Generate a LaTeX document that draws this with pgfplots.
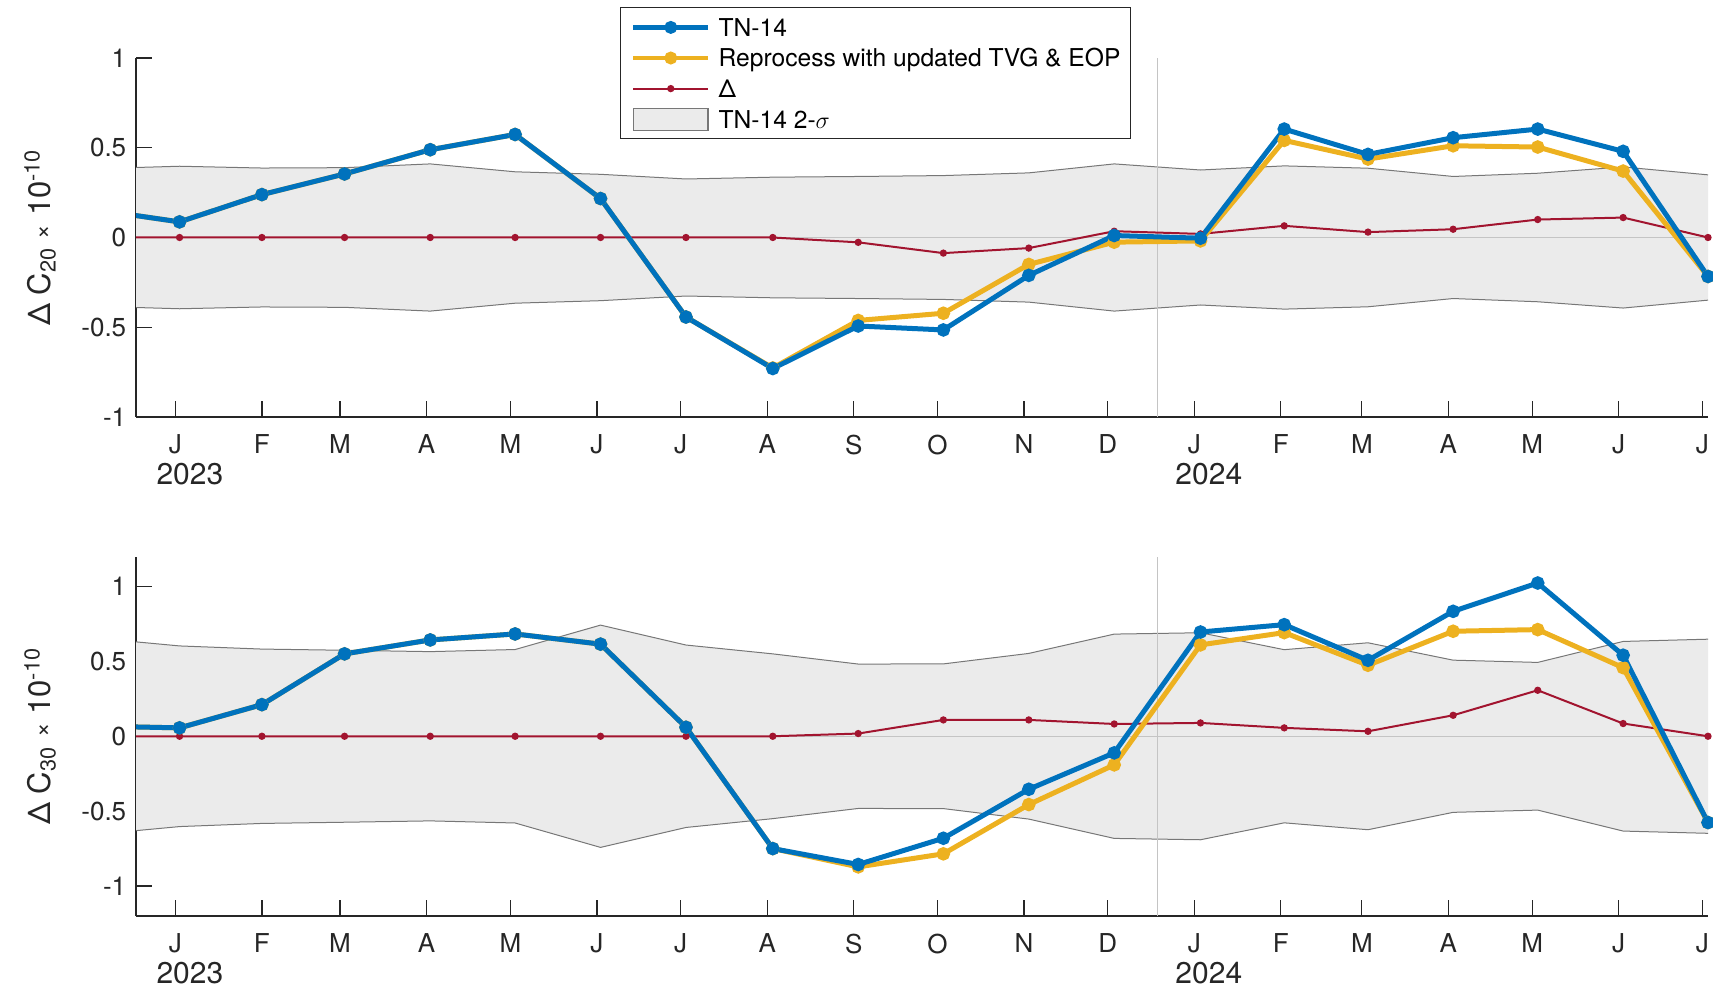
\documentclass[border=0pt]{standalone}
\usepackage{pgfplots}
\pgfplotsset{compat=1.18}
\usepackage{pgfplotstable}
\usepgfplotslibrary{fillbetween}
\usepackage{fontspec}
\setmainfont{TeX Gyre Heros}
\definecolor{mblue}{HTML}{0072BD}
\definecolor{myellow}{HTML}{EDB120}
\definecolor{mred}{HTML}{A2142F}
\definecolor{axcol}{HTML}{262626}
\definecolor{bandfill}{HTML}{EBEBEB}
\definecolor{bandedge}{HTML}{777777}
\definecolor{refline}{HTML}{C4C4C4}
\newcommand\fs{\fontsize{12.3}{14.6}\selectfont}
\newcommand\ft{\fontsize{13}{14.6}\selectfont}
\newcommand\fy{\fontsize{15}{15}\selectfont}
\newcommand\fl{\fontsize{15.5}{18}\selectfont}

% d = days since 1 Jan 2023
\pgfplotstableread{
d blue yel del sig
-29.5 0.157 0.157 0 0.383
1.5 0.087 0.087 0 0.397
31 0.239 0.239 0 0.387
60.6 0.354 0.354 0 0.389
91.3 0.489 0.489 0 0.410
121.7 0.574 0.574 0 0.366
152.3 0.217 0.217 0 0.352
182.9 -0.443 -0.443 0 0.326
214 -0.730 -0.727 0 0.336
244.6 -0.493 -0.462 -0.027 0.340
275.1 -0.515 -0.422 -0.087 0.345
305.7 -0.211 -0.150 -0.059 0.360
336.3 0.011 -0.026 0.035 0.410
367.2 -0.004 -0.019 0.020 0.376
397.2 0.604 0.541 0.065 0.399
427.2 0.463 0.437 0.030 0.386
457.7 0.556 0.511 0.046 0.340
488 0.604 0.504 0.100 0.358
518.6 0.480 0.370 0.111 0.393
549 -0.217 -0.217 0 0.349
}\tabA

\pgfplotstableread{
d blue yel del sig
-29.5 0.068 0.068 0 0.657
1.5 0.056 0.056 0 0.603
31 0.211 0.211 0 0.582
60.6 0.550 0.550 0 0.574
91.3 0.643 0.643 0 0.565
121.7 0.683 0.683 0 0.579
152.3 0.615 0.615 0 0.742
182.9 0.060 0.060 0 0.609
214 -0.750 -0.750 0 0.550
244.6 -0.856 -0.872 0.018 0.482
275.1 -0.681 -0.785 0.109 0.483
305.7 -0.354 -0.456 0.109 0.553
336.3 -0.111 -0.191 0.082 0.682
367.2 0.696 0.610 0.089 0.691
397.2 0.745 0.692 0.056 0.578
427.2 0.507 0.474 0.033 0.624
457.7 0.834 0.701 0.140 0.508
488 1.023 0.712 0.307 0.493
518.6 0.541 0.458 0.085 0.633
549 -0.576 -0.576 0 0.648
}\tabB

\pgfplotsset{
  panel/.style={
    scale only axis, width=786pt, height=179.5pt,
    xmin=-14.1, xmax=549,
    axis lines=left, axis line style={-, draw=axcol, line width=0.6pt},
    tick align=inside, major tick length=8pt,
    tick style={draw=axcol, line width=0.6pt},
    xtick={0,31,59,90,120,151,181,212,243,273,304,334,365,396,425,456,486,517,547},
    xticklabels={{J\\[0.9pt]{\fy\hspace*{14.5pt}2023}},F,M,A,M,J,J,A,S,O,N,D,{J\\[0.9pt]{\fy\hspace*{14.5pt}2024}},F,M,A,M,J,J},
    xticklabel style={align=center, anchor=north, font=\ft, text=axcol, inner sep=0pt, yshift=-8.8pt},
    ytick={-1,-0.5,0,0.5,1},
    yticklabels={-1,-0.5,0,0.5,1},
    yticklabel style={font=\ft, text=axcol, inner sep=0pt, xshift=-4.7pt},
    ylabel style={at={(axis description cs:-0.061,0.5)}, anchor=center, font=\fl, text=axcol},
  },
  bandedgestyle/.style={bandedge, line width=0.5pt, forget plot},
  reflinestyle/.style={refline, line width=0.7pt, forget plot},
  redstyle/.style={mred, line width=1pt, mark=*, mark size=1.3pt, mark options={draw=none, fill=mred}},
  yelstyle/.style={myellow, line width=2.5pt, mark=*, mark size=2.1pt, mark options={draw=none, fill=myellow}},
  bluestyle/.style={mblue, line width=2.5pt, mark=*, mark size=2.1pt, mark options={draw=none, fill=mblue}},
  linleg/.style={legend image code/.code={\draw[mark repeat=2,mark phase=2,##1] plot coordinates {(0pt,0pt) (18.65pt,0pt) (37.3pt,0pt)};}},
  arealeg/.style={legend image code/.code={\draw[##1] (0pt,-5.5pt) rectangle (37.3pt,5.5pt);}},
}

\begin{document}
\begin{tikzpicture}

\begin{axis}[panel, at={(68pt,-208.5pt)}, anchor=south west,
  ymin=-1, ymax=1,
  ylabel={Δ C\textsubscript{20} {\fontsize{12.5}{14}\selectfont ×} 10\textsuperscript{-10}},
  legend cell align=left,
  legend style={at={(axis description cs:0.3082,1.1412)}, anchor=north west,
    draw=axcol, line width=0.5pt, fill=white, font=\fs, text=black,
    inner xsep=5.15pt, inner ysep=3.7pt, row sep=3.1pt,
    nodes={inner sep=0pt, text height=10.5pt, text depth=1.7pt},
    /tikz/every odd column/.append style={column sep=4.2pt}},
]
\addlegendimage{linleg, bluestyle, line width=2.2pt}\addlegendentry{TN-14}
\addlegendimage{linleg, yelstyle, line width=2.2pt}\addlegendentry{Reprocess with updated TVG \& EOP}
\addlegendimage{linleg, redstyle}\addlegendentry{Δ}
\addlegendimage{arealeg, fill=bandfill, draw=bandedge, line width=0.6pt}\addlegendentry{TN-14 2-$\sigma$}

\addplot[draw=none, forget plot, name path=upA] table[x=d, y=sig]{\tabA};
\addplot[draw=none, forget plot, name path=loA] table[x=d, y expr=-\thisrow{sig}]{\tabA};
\addplot[fill=bandfill, draw=none, forget plot] fill between[of=upA and loA];
\addplot[bandedgestyle] table[x=d, y=sig]{\tabA};
\addplot[bandedgestyle] table[x=d, y expr=-\thisrow{sig}]{\tabA};
\addplot[reflinestyle] coordinates {(-14.1,0) (549,0)};
\addplot[reflinestyle] coordinates {(351.9,-1) (351.9,1)};
\addplot[redstyle, forget plot] table[x=d, y=del]{\tabA};
\addplot[yelstyle, forget plot] table[x=d, y=yel]{\tabA};
\addplot[bluestyle, forget plot] table[x=d, y=blue]{\tabA};
\end{axis}

\begin{axis}[panel, at={(68pt,-458pt)}, anchor=south west,
  height=179.75pt,
  ymin=-1.2, ymax=1.2,
  ylabel={Δ C\textsubscript{30} {\fontsize{12.5}{14}\selectfont ×} 10\textsuperscript{-10}},
]
\addplot[draw=none, forget plot, name path=upB] table[x=d, y=sig]{\tabB};
\addplot[draw=none, forget plot, name path=loB] table[x=d, y expr=-\thisrow{sig}]{\tabB};
\addplot[fill=bandfill, draw=none, forget plot] fill between[of=upB and loB];
\addplot[bandedgestyle] table[x=d, y=sig]{\tabB};
\addplot[bandedgestyle] table[x=d, y expr=-\thisrow{sig}]{\tabB};
\addplot[reflinestyle] coordinates {(-14.1,0) (549,0)};
\addplot[reflinestyle] coordinates {(351.9,-1.2) (351.9,1.2)};
\addplot[redstyle, forget plot] table[x=d, y=del]{\tabB};
\addplot[yelstyle, forget plot] table[x=d, y=yel]{\tabB};
\addplot[bluestyle, forget plot] table[x=d, y=blue]{\tabB};
\end{axis}

\pgfresetboundingbox
\useasboundingbox (0,0) rectangle (856.5pt,-497pt);
\end{tikzpicture}
\end{document}
